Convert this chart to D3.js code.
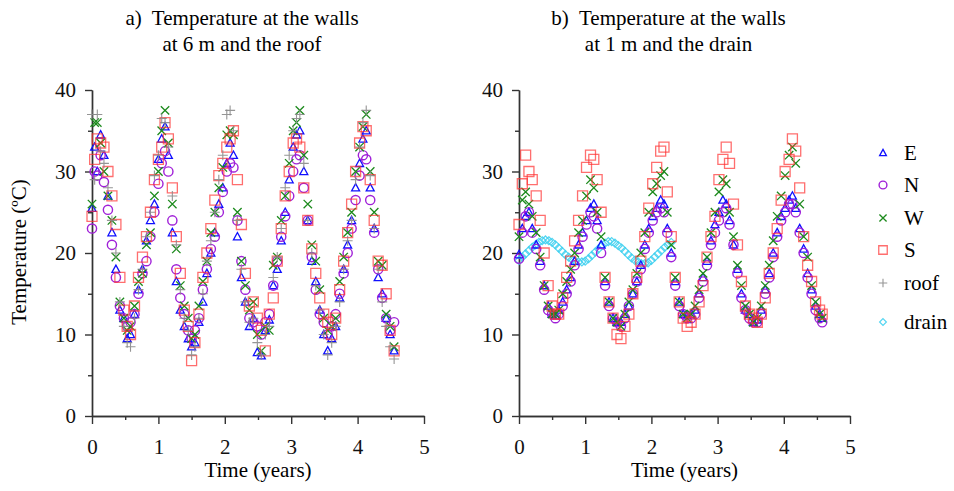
<!DOCTYPE html>
<html>
<head>
<meta charset="utf-8">
<script src="https://cdn.jsdelivr.net/npm/d3@7"></script>
<style>
  body { margin: 0; background: #fff; }
  svg text { font-family: "Liberation Serif", "Times New Roman", "DejaVu Serif", serif !important; }
</style>
</head>
<body>
<div id="chart"></div>
<script>
// measurement times (years)
const time_left = [0.00,0.04,0.08,0.13,0.18,0.24,0.30,0.36,0.42,0.48,0.53,0.58,0.64,0.70,0.76,0.82,0.88,0.94,1.00,1.05,
  1.10,1.15,1.21,1.27,1.33,1.39,1.45,1.50,1.55,1.61,1.67,1.73,1.79,1.85,1.91,1.97,2.03,2.08,2.13,2.19,
  2.25,2.31,2.37,2.43,2.49,2.55,2.61,2.67,2.73,2.79,2.85,2.91,2.97,3.03,3.08,3.13,3.19,3.25,3.31,3.37,
  3.43,3.49,3.55,3.61,3.67,3.73,3.79,3.85,3.91,3.97,4.03,4.08,4.13,4.19,4.25,4.31,4.37,4.43,4.49,4.55];

const time_right = [0.00,0.05,0.10,0.15,0.20,0.26,0.32,0.38,0.44,0.50,0.55,0.60,0.66,0.72,0.78,0.84,0.90,0.96,1.02,1.08,
  1.13,1.18,1.24,1.30,1.36,1.42,1.48,1.54,1.60,1.66,1.72,1.78,1.84,1.90,1.96,2.02,2.08,2.14,2.19,2.24,
  2.30,2.36,2.42,2.48,2.54,2.60,2.66,2.72,2.78,2.84,2.90,2.96,3.02,3.08,3.13,3.18,3.24,3.30,3.36,3.42,
  3.48,3.54,3.60,3.66,3.72,3.78,3.84,3.90,3.96,4.02,4.08,4.13,4.18,4.24,4.30,4.36,4.42,4.48,4.54,4.58];

const time_drain = [0.00,0.05,0.10,0.15,0.20,0.25,0.30,0.35,0.40,0.45,0.50,0.55,0.60,0.65,0.70,0.75,0.80,0.85,0.90,0.95,
  1.00,1.05,1.10,1.15,1.20,1.25,1.30,1.35,1.40,1.45,1.50,1.55,1.60,1.65,1.70,1.75,1.80,1.85,1.90,1.95,
  2.00,2.05,2.10,2.15,2.20,2.25,2.30];

// a) walls at 6 m and roof (deg C)
const E_6m = [25.5,33,30,34.5,32,27,22.5,18,13,12,9.5,10,12.5,15.5,18,21.5,24,26,31.5,34,
  35.5,32,22.5,16.5,13,11,9.5,8.5,9,11.5,14,17.5,20,22.5,26,28,31,33.5,32,22,
  17,14,11,12,7.8,7.4,10.5,11.8,16,18,21.5,25,29,33,34.5,35,30,24,19,16.5,
  13,10,8,9.5,11,14.5,18,21,24,28,31,34,35,28,23,17,15,12,10,8];
const N_6m = [23,30,29.5,32,28.7,25.3,21,17,13.5,12,11,11.5,12.5,15,17.5,19,22,25,28.5,31,
  32.5,30,24,18,14.5,12.5,10.5,9.5,10.5,12,15.5,18,20.5,22,25,27.5,30,31,30.5,24,
  19,15.5,12,11.5,11,10,11.5,12.5,16,19,22,24.5,27,30,31.5,32,28,24,19.5,15.5,
  12.5,11.5,10,11,12.5,15,17.5,20,23,26.5,29.5,32,31.5,26.5,22.5,18,14.5,12,10.5,11.5];
const W_6m = [26,36,36,33.5,30,27,24,19.5,14,12,10.5,11,13.5,16.5,17.5,21,22.5,27,30,35,
  37.5,33.5,26,20.5,16,13.5,12,9.5,10,13.5,16.5,19,22.5,25,28,30.5,34.5,35,34.5,25,
  19,16,13,14,10,8,11,10.5,18.5,19.5,24,27,31,35,36,37.5,32,26,21,19,
  15.5,12,10.5,11,12,16.5,19.5,22.5,25,30,33,35.5,37,30,25,19,18.5,12.5,11,8.5];
const S_6m = [24.5,31.5,34,33.5,33,30,27,23.5,17,13,11,10,13.5,17,19.5,22,25,29,31.5,33,
  36,34,28,22,17.5,13,11,6.8,9,12.5,17,20,23,26.5,29.5,31,33,34,35,29,
  23.5,17.5,13.5,14,12,10.5,8,12.5,14.5,19,23,27,30,33.5,34,33,28,24,20.5,17.5,
  14.5,12.5,11.5,10,12,15.5,19,22.5,26,30,33.5,35.5,35,29,24,19,18.5,15,10.5,8];
const roof = [37,29,37,32.5,31,28,24,20,14,11,9,8.5,12,15.5,18,22,25,29.5,32,36.5,
  36,33,27,21,15.5,12,10.5,7.5,8.5,12,15,19,21.5,25,29,32,37,37.5,35,24,
  18,14,11.5,12,9,7.5,10,11,17,19.5,23,28,32,35,36.5,37,31,24,20,16,
  13,10,7.5,9,11,14,18,21.5,24,29,33,36,37.5,29.5,23,18,14,11,8.5,7];

// b) walls at 1 m and drain (deg C)
const E_1m = [19.8,23,24.5,25,23,21,19,16,13.5,12.5,12.3,13,14,15.5,17,19,21,22.5,24,25.5,
  26,24,21,16.5,14,12,11.5,11.5,12.5,13.5,15,16.5,18.5,21,23,24.5,25.5,26.5,26,23,
  20,16.5,14,12.5,12.3,12.5,13,15,17,19,21.5,23.5,25,26.5,26,24,21,18,15,13,
  12.5,11.5,11.8,13,15.5,17.5,20,22.5,24.5,25.5,26.5,27,25.5,23,20.5,17.5,15.5,13.5,12.5,12];
const N_1m = [19.3,22.5,24.5,25,22.5,20.5,18.5,15.5,13,12.5,12,12.5,13.5,15,16.5,18.5,20.5,22,23.5,25,
  24.5,23,20,16,13.5,12,11.5,11,12,13.5,15,16.5,18,20.5,22.5,24,25,25.5,25,22.5,
  19.5,16,13.5,12.5,12,12,12.5,14.5,16.5,18.5,21,22.5,24,25,25.5,23.5,21,17.5,14.5,13,
  12,11.5,11.5,12.5,15,17,19.5,22,24,25,26,26,25,22.5,20,17,15,13,12,11.5];
const W_1m = [22,26.5,27.5,26,24.5,22.5,19.5,16,13.5,12.5,12.5,13,15,16.5,18,20,22.5,24,27,29,
  28,25,22,17,14,12,11.5,11,12.5,14,15.5,17.5,20,22.5,25,27.5,28.5,29.5,30,25,
  21,17,14,12.5,12,12.5,13.5,15.5,17.5,19.5,22.5,25,27.5,29,28.5,25,22,18.5,16,13.5,
  12.5,11.5,12,13.5,16,18.5,21.5,24.5,27,29.5,32,33,31,26,22,19.5,16,14,12.5,12];
const S_1m = [23.5,28.5,32,30,29,27,24,20,16,13.5,12.5,12.5,14.5,17,19,21.5,24,27,30.5,32,
  31.5,29,25,17,14,12,10,9.5,11,12.5,15,17,19,22,25.5,28.5,30.5,32.5,33,27.5,
  22,17,14,12,11,11.5,12.5,14,16,19.5,22,24.5,29,31.5,33,31,26,21,16.5,13.5,
  12.5,12,11.5,12.5,14.5,17.5,20,23,26.5,30,31.5,34,32.5,28,22,18.5,16.5,14,13,12.5];
const drain = [19.1,19.5,19.9,20.3,20.7,21.0,21.3,21.5,21.6,21.5,21.3,21.0,20.6,20.2,19.8,19.5,19.2,19.0,18.9,18.9,
  19.0,19.3,19.7,20.1,20.5,20.9,21.2,21.4,21.4,21.2,20.9,20.6,20.2,19.8,19.4,19.1,18.9,18.7,18.7,18.8,
  19.1,19.5,19.9,20.3,20.7,21.0,21.3];

const x_ticks = [0, 1, 2, 3, 4, 5];
const x_minor = [0.5, 1.5, 2.5, 3.5, 4.5];
const y_ticks = [0, 10, 20, 30, 40];
const y_minor = [5, 15, 25, 35];

const legend_names = ["E", "N", "W", "S", "roof", "drain"];

const serif = "'Liberation Serif', 'Times New Roman', 'DejaVu Serif', serif";

// marker paths, s = half size
const shapes = {
  tri: s => `M0,${-s}L${s*0.95},${s*0.75}L${-s*0.95},${s*0.75}Z`,
  circ: s => `M${s},0A${s},${s} 0 1,1 ${-s},0A${s},${s} 0 1,1 ${s},0Z`,
  cross: s => `M${-s},${-s}L${s},${s}M${-s},${s}L${s},${-s}`,
  square: s => `M${-s},${-s}H${s}V${s}H${-s}Z`,
  plus: s => `M${-s},0H${s}M0,${-s}V${s}`,
  diamond: s => `M0,${-s}L${s},0L0,${s}L${-s},0Z`
};
const styles = {
  E:     {shape: "tri",     size: 4.2, color: "#1010ff", width: 1.3, opacity: 1},
  N:     {shape: "circ",    size: 4.6, color: "#a020d8", width: 1.4, opacity: 1},
  W:     {shape: "cross",   size: 4.2, color: "#1c8a1c", width: 1.3, opacity: 1},
  S:     {shape: "square",  size: 5.0, color: "#ff3030", width: 1.3, opacity: 0.7},
  roof:  {shape: "plus",    size: 5.0, color: "#8a8a8a", width: 1.1, opacity: 0.9},
  drain: {shape: "diamond", size: 4.0, color: "#40d0f0", width: 1.2, opacity: 0.9}
};

const svg = d3.select("#chart").append("svg")
    .attr("width", 954)
    .attr("height", 491)
    .attr("font-family", serif);

const scale_y = d3.scaleLinear().domain([0, 40]).range([416, 90]);

function draw_panel(x_range, title1, title2, series) {
  const scale_x = d3.scaleLinear().domain([0, 5]).range(x_range);
  const g = svg.append("g");

  // minor ticks
  g.append("g")
      .attr("transform", `translate(0, ${scale_y(0)})`)
      .call(d3.axisBottom(scale_x).tickValues(x_minor).tickSize(4).tickSizeOuter(0).tickFormat(""));
  g.append("g")
      .attr("transform", `translate(${scale_x(0)}, 0)`)
      .call(d3.axisLeft(scale_y).tickValues(y_minor).tickSize(4).tickSizeOuter(0).tickFormat(""));

  const x_axis = g.append("g")
      .attr("transform", `translate(0, ${scale_y(0)})`)
      .call(d3.axisBottom(scale_x).tickValues(x_ticks).tickFormat(d3.format("d"))
            .tickSize(8).tickSizeOuter(0).tickPadding(15));
  const y_axis = g.append("g")
      .attr("transform", `translate(${scale_x(0)}, 0)`)
      .call(d3.axisLeft(scale_y).tickValues(y_ticks).tickFormat(d3.format("d"))
            .tickSize(7).tickSizeOuter(0).tickPadding(9));

  g.selectAll(".domain, .tick line").attr("stroke", "#333").attr("stroke-width", 1.4);
  g.selectAll("g").attr("font-family", serif);
  [x_axis, y_axis].forEach(a => a.selectAll("text")
      .attr("font-family", serif)
      .style("font-size", "21px")
      .attr("fill", "#111"));

  const mid = (x_range[0] + x_range[1]) / 2;
  g.append("text")
      .attr("x", mid)
      .attr("y", 477)
      .attr("text-anchor", "middle")
      .style("font-size", "21px")
      .text("Time (years)");

  g.append("text")
      .attr("x", mid - 16)
      .attr("y", 25)
      .attr("text-anchor", "middle")
      .style("font-size", "21px")
      .style("white-space", "pre")
      .text(title1);
  g.append("text")
      .attr("x", mid - 16)
      .attr("y", 51)
      .attr("text-anchor", "middle")
      .style("font-size", "21px")
      .text(title2);

  series.forEach(s => {
    const st = styles[s.name];
    const pts = s.times.map((t, i) => [t, s.values[i]]);
    g.append("g").selectAll("path")
      .data(pts)
      .join("path")
        .attr("transform", d => `translate(${scale_x(d[0])}, ${scale_y(d[1])})`)
        .attr("d", shapes[st.shape](st.size))
        .attr("fill", "none")
        .attr("stroke", st.color)
        .attr("stroke-width", st.width)
        .attr("stroke-opacity", st.opacity);
  });
}

draw_panel([92, 424], "a)  Temperature at the walls", "at 6 m and the roof", [
  {name: "E", times: time_left, values: E_6m},
  {name: "N", times: time_left, values: N_6m},
  {name: "W", times: time_left, values: W_6m},
  {name: "S", times: time_left, values: S_6m},
  {name: "roof", times: time_left, values: roof}
]);

draw_panel([519, 850], "b)  Temperature at the walls", "at 1 m and the drain", [
  {name: "drain", times: time_drain, values: drain},
  {name: "E", times: time_right, values: E_1m},
  {name: "N", times: time_right, values: N_1m},
  {name: "W", times: time_right, values: W_1m},
  {name: "S", times: time_right, values: S_1m}
]);

// y label
svg.append("text")
    .attr("transform", "translate(26, 252) rotate(-90)")
    .attr("text-anchor", "middle")
    .style("font-size", "21px")
    .text("Temperature (\u00baC)");

// legend
const legend_y = [153, 185, 218, 250, 283, 322];
const legend = svg.append("g");
legend_names.forEach((name, i) => {
  const st = styles[name];
  legend.append("path")
      .attr("transform", `translate(883, ${legend_y[i]})`)
      .attr("d", shapes[st.shape](st.size * 0.85))
      .attr("fill", "none")
      .attr("stroke", st.color)
      .attr("stroke-width", st.width)
      .attr("stroke-opacity", st.opacity);
  legend.append("text")
      .attr("x", 904)
      .attr("y", legend_y[i] + 7)
      .style("font-size", "21px")
      .text(name);
});
</script>
</body>
</html>
